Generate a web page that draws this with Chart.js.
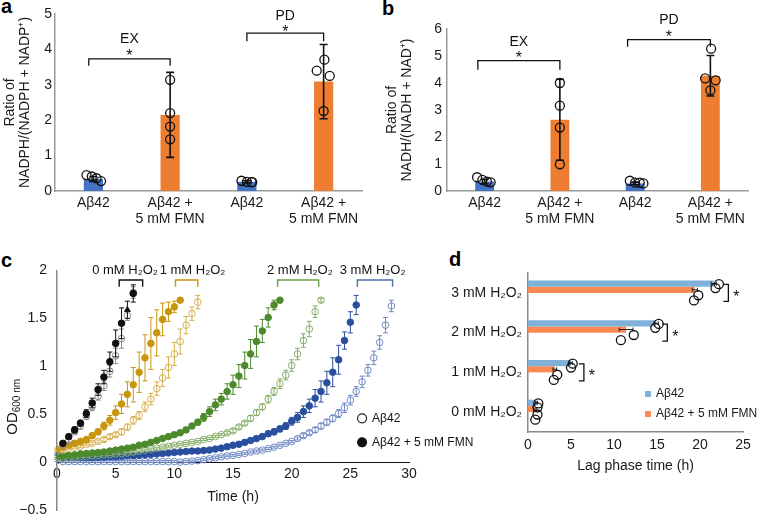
<!DOCTYPE html>
<html>
<head>
<meta charset="utf-8">
<script src="https://cdn.jsdelivr.net/npm/chart.js@4.4.1/dist/chart.umd.min.js"></script>
<style>
  body { margin: 0; width: 758px; height: 515px; overflow: hidden; background: #fff; font-family: "Liberation Sans", Arial, sans-serif; }
  canvas { position: absolute; }
  .tag { position: absolute; font-weight: bold; font-size: 20px; line-height: 20px; color: #000; }
</style>
</head>
<body>
<div class="tag" style="left:1px;top:-4px">a</div>
<div class="tag" style="left:382px;top:-2px">b</div>
<div class="tag" style="left:1px;top:250px">c</div>
<div class="tag" style="left:449px;top:249px">d</div>
<canvas id="chartA" width="380" height="250" style="left:0;top:0"></canvas>
<canvas id="chartB" width="378" height="250" style="left:380px;top:0"></canvas>
<canvas id="chartC" width="485" height="277" style="left:0;top:252px"></canvas>
<canvas id="chartD" width="318" height="240" style="left:440px;top:255px"></canvas>
<script>
// ---- a / b : NADPH and NADH ratios ----
const groupLabels = ['Aβ42', ['Aβ42 +', '5 mM FMN'], 'Aβ42', ['Aβ42 +', '5 mM FMN']];
const nadphMean = [0.34, 2.15, 0.26, 3.09];
const nadphSd = [0.07, 1.2, 0.03, 1.05];
const nadphReps = [[0.45, 0.41, 0.36, 0.28], [3.14, 2.2, 1.82, 1.46], [0.29, 0.26, 0.25, 0.25], [3.4, 3.71, 3.25, 2.26]];
const nadhMean = [0.35, 2.64, 0.28, 4.27];
const nadhSd = [0.08, 1.5, 0.05, 0.75];
const nadhReps = [[0.51, 0.41, 0.35, 0.32], [4.0, 3.16, 2.35, 0.99], [0.38, 0.31, 0.31, 0.28], [4.17, 5.27, 4.1, 3.73]];

// ---- c : growth curves (OD600), one value per half hour ----
const hours = [0,0.5,1,1.5,2,2.5,3,3.5,4,4.5,5,5.5,6,6.5,7,7.5,8,8.5,9,9.5,10,10.5,11,11.5,12,12.5,13,13.5,14,14.5,15,15.5,16,16.5,17,17.5,18,18.5,19,19.5,20,20.5,21,21.5,22,22.5,23,23.5,24,24.5,25,25.5,26,26.5,27,27.5,28,28.5];
const od0Fmn = [null,0.20,0.27,0.34,0.41,0.51,0.62,0.76,0.89,1.05,1.24,1.45,1.59,1.76];
const od0FmnSd = [null,0.02,0.02,0.03,0.03,0.04,0.05,0.06,0.07,0.1,0.14,0.16,0.09,0.09];
const od0 = [null,0.18,0.23,0.32,0.38,0.48,0.58,0.69,0.80,0.95,1.11,1.29,1.53,1.77];
const od0Sd = [null,0.02,0.02,0.02,0.03,0.03,0.04,0.04,0.05,0.06,0.08,0.1,0.05,0.06];
const od1Fmn = [0.14,0.16,0.18,0.20,0.22,0.24,0.28,0.32,0.38,0.44,0.52,0.61,0.71,0.81,0.94,1.09,1.24,1.35,1.49,1.57,1.62,1.69];
const od1FmnSd = [0.01,0.01,0.01,0.015,0.02,0.02,0.025,0.03,0.04,0.05,0.07,0.1,0.13,0.18,0.21,0.24,0.27,0.24,0.17,0.1,0.06,0.02];
const od1 = [0.12,0.13,0.15,0.16,0.17,0.19,0.2,0.22,0.24,0.27,0.29,0.32,0.37,0.44,0.49,0.58,0.66,0.77,0.88,0.99,1.13,1.26,1.43,1.55,1.67];
const od1Sd = [0.01,0.01,0.01,0.01,0.01,0.01,0.015,0.015,0.02,0.02,0.02,0.03,0.03,0.04,0.04,0.05,0.06,0.07,0.09,0.11,0.12,0.13,0.09,0.07,0.07];
const od2Fmn = [0.06,0.07,0.075,0.08,0.09,0.095,0.1,0.105,0.11,0.12,0.13,0.14,0.15,0.16,0.18,0.19,0.21,0.23,0.25,0.27,0.29,0.31,0.34,0.38,0.42,0.47,0.53,0.6,0.66,0.74,0.81,0.9,1.01,1.13,1.26,1.37,1.51,1.64,1.69];
const od2FmnSd = [0.01,0.01,0.01,0.01,0.01,0.01,0.01,0.01,0.01,0.01,0.01,0.01,0.01,0.01,0.01,0.01,0.01,0.01,0.01,0.01,0.01,0.01,0.02,0.02,0.03,0.04,0.05,0.06,0.06,0.08,0.1,0.12,0.14,0.15,0.16,0.12,0.1,0.05,0.02];
const od2 = [0.04,0.045,0.05,0.055,0.06,0.065,0.07,0.075,0.08,0.085,0.09,0.095,0.1,0.11,0.12,0.13,0.14,0.15,0.16,0.17,0.18,0.19,0.2,0.21,0.22,0.24,0.25,0.27,0.29,0.31,0.33,0.37,0.41,0.46,0.52,0.58,0.66,0.74,0.82,0.91,1.01,1.13,1.27,1.39,1.57,1.69];
const od2Sd = [0.01,0.01,0.01,0.01,0.01,0.01,0.01,0.01,0.01,0.01,0.01,0.01,0.01,0.01,0.01,0.01,0.01,0.01,0.01,0.01,0.01,0.01,0.01,0.01,0.01,0.01,0.01,0.01,0.01,0.015,0.02,0.02,0.02,0.03,0.03,0.03,0.04,0.04,0.05,0.05,0.06,0.06,0.07,0.08,0.06,0.02];
const od3Fmn = [0.09,0.05,0.05,0.05,0.05,0.05,0.05,0.055,0.055,0.06,0.06,0.065,0.07,0.07,0.075,0.08,0.085,0.09,0.095,0.1,0.105,0.11,0.115,0.12,0.12,0.125,0.13,0.14,0.15,0.165,0.18,0.19,0.21,0.23,0.25,0.27,0.3,0.32,0.35,0.38,0.43,0.47,0.53,0.59,0.67,0.74,0.83,0.94,1.07,1.27,1.46,1.64];
const od3FmnSd = [0.01,0.01,0.01,0.01,0.01,0.01,0.01,0.01,0.01,0.01,0.01,0.01,0.01,0.01,0.01,0.01,0.01,0.01,0.01,0.01,0.01,0.01,0.01,0.01,0.01,0.01,0.01,0.01,0.01,0.01,0.01,0.01,0.01,0.015,0.02,0.02,0.025,0.03,0.03,0.035,0.04,0.05,0.06,0.07,0.09,0.11,0.12,0.15,0.15,0.09,0.11,0.1];
const od3 = [0.02,0.01,0.01,0.01,0.01,0.01,0.01,0.01,0.01,0.01,0.01,0.01,0.01,0.01,0.01,0.01,0.01,0.01,0.01,0.01,0.01,0.005,0.01,0.015,0.02,0.03,0.04,0.05,0.06,0.07,0.075,0.085,0.095,0.11,0.12,0.13,0.145,0.16,0.18,0.2,0.22,0.25,0.28,0.31,0.34,0.38,0.42,0.46,0.51,0.57,0.65,0.74,0.84,0.96,1.09,1.25,1.43,1.63];
const od3Sd = [0.01,0.01,0.01,0.01,0.01,0.01,0.01,0.01,0.01,0.01,0.01,0.01,0.01,0.01,0.01,0.01,0.01,0.01,0.01,0.01,0.01,0.01,0.01,0.01,0.01,0.01,0.01,0.01,0.01,0.01,0.01,0.01,0.01,0.01,0.01,0.01,0.01,0.01,0.01,0.01,0.01,0.015,0.02,0.02,0.025,0.03,0.03,0.035,0.04,0.05,0.05,0.05,0.06,0.06,0.07,0.07,0.08,0.06];

// ---- d : lag phase ----
const lagLabels = ['3 mM H₂O₂', '2 mM H₂O₂', '1 mM H₂O₂', '0 mM H₂O₂'];
const lagCtrl = [21.6, 14.9, 5.0, 1.0];
const lagCtrlSd = [0.3, 0.25, 0.15, 0.1];
const lagCtrlReps = [[21.8, 22.2], [14.8, 15.2], [5.0, 5.2], [1.1, 1.2]];
const lagFmn = [19.4, 11.4, 3.1, 0.8];
const lagFmnSd = [0.3, 0.8, 0.2, 0.15];
const lagFmnReps = [[19.3, 19.8], [10.8, 12.3], [3.0, 3.4], [0.85, 1.1]];

const FONT = '"Liberation Sans", Arial, sans-serif';
Chart.defaults.font.family = FONT;
Chart.defaults.font.size = 14;
Chart.defaults.color = '#1a1a1a';

const noGrid = {display: false, drawTicks: false};

// error bars drawn right after their own dataset
const errorBars = {
    id: 'errorBars',
    afterDatasetDraw(chart, args) {
        const ds = chart.data.datasets[args.index];
        if (!ds.err) return;
        const meta = args.meta, vs = meta.vScale, key = vs.axis;
        const ctx = chart.ctx, cap = ds.errCap || 3;
        ctx.save();
        ctx.strokeStyle = ds.errColor || '#111';
        ctx.lineWidth = ds.errWidth || 1;
        meta.data.forEach((el, i) => {
            const e = ds.err[i];
            if (!e) return;
            const raw = ds.data[i];
            const v = typeof raw === 'object' ? raw[key] : raw;
            const a = vs.getPixelForValue(v - e), b = vs.getPixelForValue(v + e);
            ctx.beginPath();
            if (key === 'y') {
                ctx.moveTo(el.x, a); ctx.lineTo(el.x, b);
                ctx.moveTo(el.x - cap, a); ctx.lineTo(el.x + cap, a);
                ctx.moveTo(el.x - cap, b); ctx.lineTo(el.x + cap, b);
            } else {
                ctx.moveTo(a, el.y); ctx.lineTo(b, el.y);
                ctx.moveTo(a, el.y - cap); ctx.lineTo(a, el.y + cap);
                ctx.moveTo(b, el.y - cap); ctx.lineTo(b, el.y + cap);
            }
            ctx.stroke();
        });
        ctx.restore();
    }
};

function drawStar(ctx, x, yCenter) {
    ctx.font = '16px ' + FONT;
    ctx.textAlign = 'center';
    ctx.textBaseline = 'alphabetic';
    ctx.fillText('*', x, yCenter + 9);
}

function sigPlugin(marks) {
    return {
        id: 'sig',
        afterDraw(chart) {
            const ctx = chart.ctx, xs = chart.scales.x2, ys = chart.scales.y;
            ctx.save();
            ctx.strokeStyle = '#111';
            ctx.fillStyle = '#111';
            ctx.lineWidth = 1.3;
            marks.forEach(m => {
                const x0 = xs.getPixelForValue(m.x0), x1 = xs.getPixelForValue(m.x1);
                const y = ys.getPixelForValue(m.y), yd = ys.getPixelForValue(m.drop);
                ctx.beginPath();
                ctx.moveTo(x0, yd); ctx.lineTo(x0, y); ctx.lineTo(x1, y); ctx.lineTo(x1, yd);
                ctx.stroke();
                const xm = (x0 + x1) / 2;
                drawStar(ctx, xm, ys.getPixelForValue(m.star));
                ctx.font = '14px ' + FONT;
                ctx.textBaseline = 'middle';
                ctx.fillText(m.label, xm, ys.getPixelForValue(m.labelY));
            });
            ctx.restore();
        }
    };
}

function ratioChart(id, means, sds, reps, jit, yMax, yTitle, axisW, padTop, padRight, titlePad, tickPad, marks) {
    const dots = [];
    reps.forEach((g, i) => g.forEach((v, k) => dots.push({x: i + jit[i][k], y: v})));
    return new Chart(document.getElementById(id), {
        type: 'bar',
        data: {
            labels: groupLabels,
            datasets: [{
                type: 'scatter',
                data: dots,
                xAxisID: 'x2',
                order: 0,
                pointRadius: 4.5,
                pointBorderWidth: 1.3,
                pointBorderColor: '#111',
                pointBackgroundColor: 'rgba(255,255,255,0)',
            }, {
                data: means,
                err: sds,
                errColor: '#111',
                errCap: 4,
                errWidth: 1.6,
                backgroundColor: ['#4472c4', '#ed7d31', '#4472c4', '#ed7d31'],
                order: 1,
                grouped: false,
                barPercentage: 0.25,
                categoryPercentage: 1,
            }]
        },
        options: {
            responsive: false,
            animation: false,
            layout: {padding: {top: padTop, right: padRight, left: 0, bottom: 0}},
            plugins: {legend: {display: false}, tooltip: {enabled: false}},
            scales: {
                x: {
                    grid: noGrid,
                    border: {color: '#9a9a9a', width: 1.5},
                    ticks: {padding: 4, maxRotation: 0, font: {size: 14, lineHeight: 1.15}},
                    afterFit: s => { s.height = 59; },
                },
                x2: {type: 'linear', display: false, offset: false, min: -0.5, max: 3.5},
                y: {
                    min: 0,
                    max: yMax,
                    grid: noGrid,
                    border: {color: '#9a9a9a', width: 1.5},
                    ticks: {stepSize: 1, padding: tickPad},
                    title: {display: true, text: yTitle, font: {size: 14, lineHeight: 1.1}, padding: {top: titlePad, bottom: 0}},
                    afterFit: s => { s.width = axisW; },
                },
            },
        },
        plugins: [errorBars, sigPlugin(marks)],
    });
}

ratioChart('chartA', nadphMean, nadphSd, nadphReps,
    [[-0.09, -0.02, 0.04, 0.1], [0, 0, 0, 0], [-0.07, 0, 0.06, 0.07], [-0.09, 0.01, 0.08, 0]],
    5, ['Ratio of', 'NADPH/(NADPH + NADP⁺)'], 55, 14, 18, 2, 3,
    [{x0: -0.06, x1: 1, y: 3.73, drop: 3.54, star: 3.93, label: 'EX', labelY: 4.29},
     {x0: 2, x1: 3, y: 4.46, drop: 4.23, star: 4.6, label: 'PD', labelY: 4.95}]);

ratioChart('chartB', nadhMean, nadhSd, nadhReps,
    [[-0.1, -0.03, 0.03, 0.08], [0, 0, 0, 0], [-0.07, 0, 0.06, 0.11], [-0.07, 0.01, 0.07, 0]],
    6, ['Ratio of', 'NADH/(NADH + NAD⁺)'], 67, 29, 10, 4, 5,
    [{x0: -0.09, x1: 1, y: 4.83, drop: 4.49, star: 5.06, label: 'EX', labelY: 5.51},
     {x0: 1.9, x1: 3, y: 5.61, drop: 5.34, star: 5.87, label: 'PD', labelY: 6.33}]);

// ---- panel c ----
function growth(vals, sd, color, filled) {
    const pts = [], err = [];
    vals.forEach((v, i) => {
        if (v === null) return;
        pts.push({x: hours[i], y: v});
        err.push(sd[i]);
    });
    return {
        data: pts,
        err: err,
        errColor: color,
        errCap: 2.5,
        errWidth: 1,
        pointRadius: 3.3,
        pointBorderWidth: 1,
        pointBorderColor: color,
        pointBackgroundColor: filled ? color : 'rgba(255,255,255,0)',
    };
}

const blackFmnSet = growth(od0Fmn, od0FmnSd, '#111111', true);
blackFmnSet.pointStyle = c => (c.raw && c.raw.x === 6 ? 'triangle' : 'circle');

const cSets = [
    blackFmnSet,
    growth(od0, od0Sd, '#8c8c8c', false),
    growth(od1Fmn, od1FmnSd, '#c8960e', true),
    growth(od1, od1Sd, '#d6b04e', false),
    growth(od2Fmn, od2FmnSd, '#4d8a2d', true),
    growth(od2, od2Sd, '#86ad68', false),
    growth(od3Fmn, od3FmnSd, '#2a4f9e', true),
    growth(od3, od3Sd, '#7089c4', false),
];

const doseBrackets = [
    {label: '0 mM H₂O₂', t0: 5.3, t1: 7.3, tl: 5.8, color: '#111111'},
    {label: '1 mM H₂O₂', t0: 10.1, t1: 12.0, tl: 11.55, color: '#c8960e'},
    {label: '2 mM H₂O₂', t0: 18.8, t1: 22.3, tl: 20.7, color: '#6b9c4b'},
    {label: '3 mM H₂O₂', t0: 25.6, t1: 28.6, tl: 26.9, color: '#4d6ea8'},
];

const growthExtras = {
    id: 'growthExtras',
    afterDraw(chart) {
        const ctx = chart.ctx, xs = chart.scales.x, ys = chart.scales.y;
        ctx.save();
        // dose brackets
        const yTop = ys.getPixelForValue(1.9), yBot = ys.getPixelForValue(1.83), yTxt = ys.getPixelForValue(1.96);
        ctx.lineWidth = 1.4;
        doseBrackets.forEach(b => {
            const x0 = xs.getPixelForValue(b.t0), x1 = xs.getPixelForValue(b.t1);
            ctx.strokeStyle = b.color;
            ctx.beginPath();
            ctx.moveTo(x0, yBot); ctx.lineTo(x0, yTop); ctx.lineTo(x1, yTop); ctx.lineTo(x1, yBot);
            ctx.stroke();
            ctx.fillStyle = '#111';
            ctx.font = '13px ' + FONT;
            ctx.textAlign = 'center';
            ctx.textBaseline = 'alphabetic';
            ctx.fillText(b.label, xs.getPixelForValue(b.tl), yTxt);
        });
        // y title OD600 nm
        ctx.save();
        ctx.translate(17, ys.getPixelForValue(0.56));
        ctx.rotate(-Math.PI / 2);
        ctx.fillStyle = '#111';
        ctx.textAlign = 'left';
        ctx.textBaseline = 'alphabetic';
        ctx.font = '15px ' + FONT;
        const w = ctx.measureText('OD').width;
        ctx.fillText('OD', -26, 0);
        ctx.font = '10px ' + FONT;
        ctx.fillText('600 nm', -26 + w, 3);
        ctx.restore();
        // legend
        const lx = xs.getPixelForValue(26.0), ly = ys.getPixelForValue(0.46);
        ctx.strokeStyle = '#222';
        ctx.lineWidth = 1.2;
        ctx.beginPath(); ctx.arc(lx, ly, 4.5, 0, Math.PI * 2); ctx.stroke();
        ctx.fillStyle = '#111';
        ctx.beginPath(); ctx.arc(lx, ly + 24, 5, 0, Math.PI * 2); ctx.fill();
        ctx.font = '12px ' + FONT;
        ctx.textAlign = 'left';
        ctx.textBaseline = 'middle';
        ctx.fillText('Aβ42', lx + 10, ly);
        ctx.fillText('Aβ42 + 5 mM FMN', lx + 10, ly + 24);
        ctx.restore();
    }
};

new Chart(document.getElementById('chartC'), {
    type: 'scatter',
    data: {datasets: cSets},
    options: {
        responsive: false,
        animation: false,
        layout: {padding: {top: 11, right: 76, left: 0, bottom: 0}},
        plugins: {legend: {display: false}, tooltip: {enabled: false}},
        scales: {
            x: {
                type: 'linear',
                position: {y: 0},
                min: 0,
                max: 30,
                grid: noGrid,
                border: {color: '#111', width: 1},
                ticks: {stepSize: 5, padding: 3},
                title: {display: true, text: 'Time (h)', font: {size: 14}, padding: {top: 0, bottom: 2}},
                afterFit: s => { s.height = 45; },
            },
            y: {
                min: -0.5,
                max: 2,
                grid: noGrid,
                border: {color: '#8a8a8a', width: 1.5},
                ticks: {stepSize: 0.5, padding: 10, callback: v => (v < 0 ? '−' + Math.abs(v) : String(v))},
                afterFit: s => { s.width = 57; },
            },
        },
    },
    plugins: [errorBars, growthExtras],
});

// ---- panel d ----
const sigD = [{cat: 0, x: 23.3}, {cat: 1, x: 16.2}, {cat: 2, x: 6.5}];

function lagDots(reps, offs) {
    const pts = [];
    reps.forEach((g, i) => g.forEach((v, k) => pts.push({x: v, y: i + offs[k]})));
    return pts;
}

const lagExtras = {
    id: 'lagExtras',
    afterDraw(chart) {
        const ctx = chart.ctx, xs = chart.scales.x, ys = chart.scales.y, area = chart.chartArea;
        ctx.save();
        ctx.strokeStyle = '#111';
        ctx.fillStyle = '#111';
        ctx.lineWidth = 1.3;
        sigD.forEach(s => {
            const x = xs.getPixelForValue(s.x), yc = ys.getPixelForValue(s.cat);
            ctx.beginPath();
            ctx.moveTo(x - 5, yc - 8.5); ctx.lineTo(x, yc - 8.5); ctx.lineTo(x, yc + 8.5); ctx.lineTo(x - 5, yc + 8.5);
            ctx.stroke();
            drawStar(ctx, x + 8, yc);
        });
        // legend
        const lx = area.left + 117, ly = area.top + 121;
        [['#80b1d9', 'Aβ42'], ['#fb8a52', 'Aβ42 + 5 mM FMN']].forEach(([c, t], i) => {
            ctx.fillStyle = c;
            ctx.fillRect(lx, ly + i * 20 - 3, 6, 6);
            ctx.fillStyle = '#1a1a1a';
            ctx.font = '12px ' + FONT;
            ctx.textAlign = 'left';
            ctx.textBaseline = 'middle';
            ctx.fillText(t, lx + 11, ly + i * 20);
        });
        ctx.restore();
    }
};

// the dots share the stack of the first bar so they do not take a bar slot
const dotStyle = {
    type: 'scatter',
    xAxisID: 'x',
    yAxisID: 'y2',
    stack: 'ctrl',
    order: 0,
    pointRadius: 4.5,
    pointBorderWidth: 1.3,
    pointBorderColor: '#111',
    pointBackgroundColor: 'rgba(255,255,255,0)',
};

new Chart(document.getElementById('chartD'), {
    type: 'bar',
    data: {
        labels: lagLabels,
        datasets: [
            {label: 'Aβ42', data: lagCtrl, err: lagCtrlSd, errColor: '#222', errCap: 2, backgroundColor: '#80b1d9', stack: 'ctrl', order: 1},
            {label: 'Aβ42 + 5 mM FMN', data: lagFmn, err: lagFmnSd, errColor: '#222', errCap: 2, backgroundColor: '#fb8a52', stack: 'fmn', order: 1},
            Object.assign({data: lagDots(lagCtrlReps, [-0.12, -0.22])}, dotStyle),
            Object.assign({data: lagDots(lagFmnReps, [0.19, 0.06])}, dotStyle),
        ]
    },
    options: {
        indexAxis: 'y',
        responsive: false,
        animation: false,
        datasets: {bar: {categoryPercentage: 0.625, barPercentage: 1}},
        layout: {padding: {top: 18, right: 15, left: 0, bottom: 20}},
        plugins: {legend: {display: false}, tooltip: {enabled: false}},
        scales: {
            x: {
                type: 'linear',
                stacked: false,
                min: 0,
                max: 25,
                grid: noGrid,
                border: {color: '#8a8a8a', width: 1.5},
                ticks: {stepSize: 5, padding: 5},
                title: {display: true, text: 'Lag phase time (h)', font: {size: 14}, padding: {top: 0, bottom: 0}},
                afterFit: s => { s.height = 43; },
            },
            y: {
                type: 'category',
                grid: noGrid,
                border: {color: '#8a8a8a', width: 1.5},
                ticks: {padding: 6},
                afterFit: s => { s.width = 88; },
            },
            y2: {type: 'linear', display: false, offset: false, min: -0.5, max: 3.5, reverse: true},
        },
    },
    plugins: [errorBars, lagExtras],
});
</script>
</body>
</html>
